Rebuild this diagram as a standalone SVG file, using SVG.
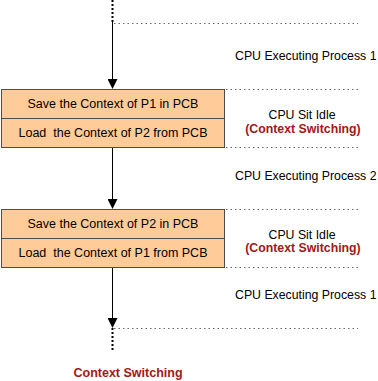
<svg xmlns="http://www.w3.org/2000/svg" width="378" height="381" viewBox="0 0 378 381">
<style>
.box{fill:#ffcc99;stroke:#4d4d4d;stroke-width:1}
.t{font-family:"Liberation Sans",Arial,sans-serif;font-size:12.3px;fill:#000;white-space:pre}
.b{font-size:12.5px}
.c{text-anchor:middle}
.r{font-weight:bold;fill:#a01818}
.hd{stroke:#666;stroke-width:1;stroke-dasharray:1.5 3;fill:none}
.vd{stroke:#000;stroke-width:2;stroke-dasharray:2 2;fill:none}
.ln{stroke:#000;stroke-width:1;fill:none}
</style>
<defs>
<marker id="ah" markerWidth="10" markerHeight="10" refX="9" refY="5" orient="auto" markerUnits="userSpaceOnUse">
<path d="M0,0 L10,5 L0,10 Z" fill="#000"/>
</marker>
</defs>
<g id="connectors">
<line class="vd" x1="112.5" y1="0" x2="112.5" y2="22"/>
<line class="ln" x1="112.5" y1="22" x2="112.5" y2="88" marker-end="url(#ah)"/>
<line class="ln" x1="112.5" y1="147" x2="112.5" y2="208" marker-end="url(#ah)"/>
<line class="ln" x1="112.5" y1="267" x2="112.5" y2="327" marker-end="url(#ah)"/>
<line class="vd" x1="112.5" y1="328" x2="112.5" y2="350"/>
</g>
<g id="guides">
<line class="hd" x1="114" y1="23.5" x2="358" y2="23.5"/>
<line class="hd" x1="226" y1="89.5" x2="358" y2="89.5"/>
<line class="hd" x1="226" y1="147.5" x2="358" y2="147.5"/>
<line class="hd" x1="226" y1="209.5" x2="358" y2="209.5"/>
<line class="hd" x1="226" y1="267.5" x2="358" y2="267.5"/>
<line class="hd" x1="114" y1="328.5" x2="358" y2="328.5"/>
</g>
<g id="box1">
<rect class="box" x="1.5" y="89.5" width="223" height="29"/>
<text class="t b c" x="113" y="108">Save the Context of P1 in PCB</text>
<rect class="box" x="1.5" y="118.5" width="223" height="29"/>
<text class="t b c" x="113" y="137">Load  the Context of P2 from PCB</text>
</g>
<g id="box2">
<rect class="box" x="1.5" y="209.5" width="223" height="29"/>
<text class="t b c" x="113" y="228">Save the Context of P2 in PCB</text>
<rect class="box" x="1.5" y="238.5" width="223" height="29"/>
<text class="t b c" x="113" y="257">Load  the Context of P1 from PCB</text>
</g>
<g id="labels">
<text class="t" x="235" y="60">CPU Executing Process 1</text>
<text class="t c" x="302" y="119">CPU Sit Idle</text>
<text class="t c r" x="303" y="133">(Context Switching)</text>
<text class="t" x="235" y="180">CPU Executing Process 2</text>
<text class="t c" x="302" y="239">CPU Sit Idle</text>
<text class="t c r" x="303" y="252">(Context Switching)</text>
<text class="t" x="235" y="299">CPU Executing Process 1</text>
<text class="t c r b" x="128" y="377">Context Switching</text>
</g>
</svg>
